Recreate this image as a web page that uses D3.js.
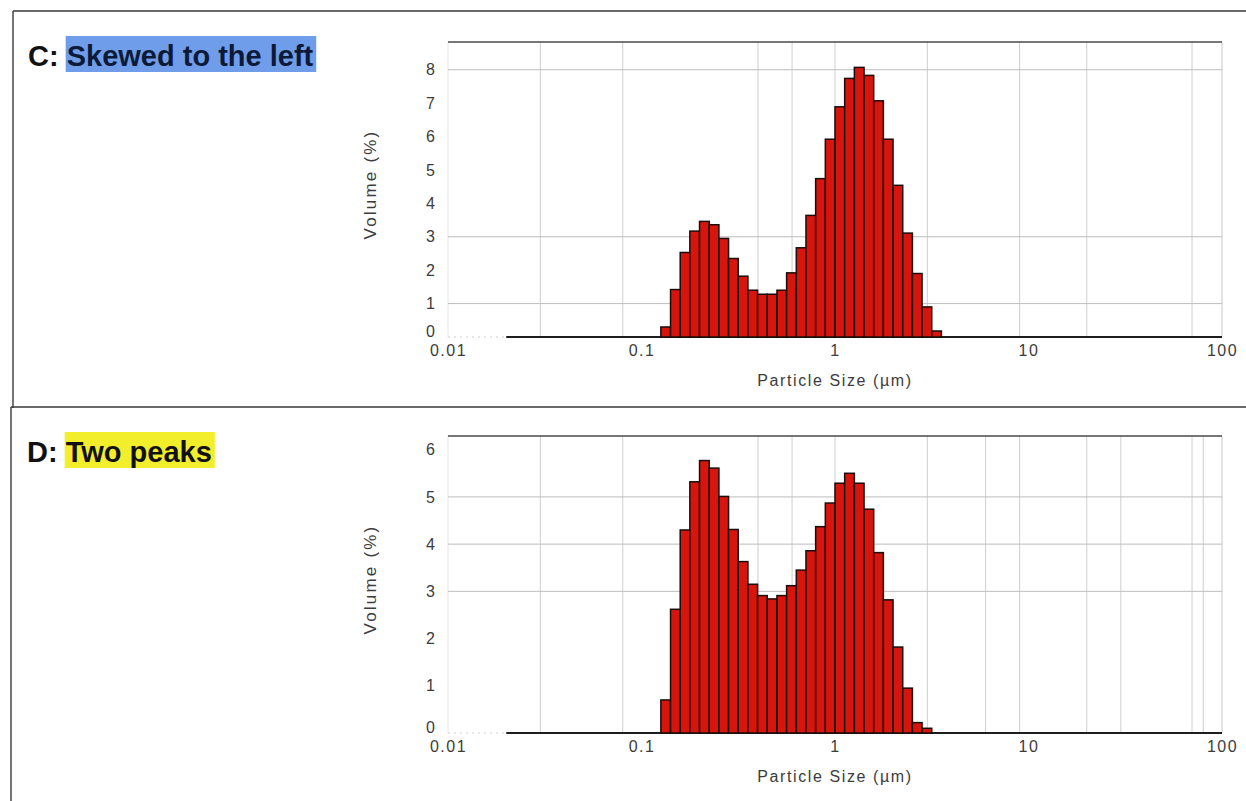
<!DOCTYPE html>
<html>
<head>
<meta charset="utf-8">
<script src="https://cdn.jsdelivr.net/npm/d3@7/dist/d3.min.js"></script>
<style>
  html, body { margin: 0; padding: 0; background: #fff; }
  svg { display: block; }
</style>
</head>
<body>
<svg id="chart" width="1246" height="801"></svg>
<script>
// ---------- DATA ----------
// Lower/upper edges of the Mastersizer size classes (µm) that carry volume
const sizeEdges = [0.1259, 0.1413, 0.1585, 0.1778, 0.1995, 0.2239, 0.2512, 0.2818, 0.3162, 0.3548,
  0.3981, 0.4467, 0.5012, 0.5623, 0.6310, 0.7079, 0.7943, 0.8913, 1.0, 1.122,
  1.259, 1.413, 1.585, 1.778, 1.995, 2.239, 2.512, 2.818, 3.162, 3.548];

// Panel C: Skewed to the left  (Volume %, one per size class)
const volumeC = [0.30, 1.42, 2.53, 3.17, 3.46, 3.36, 2.95, 2.35, 1.82, 1.40,
  1.28, 1.28, 1.40, 1.92, 2.67, 3.64, 4.74, 5.92, 6.89, 7.74,
  8.07, 7.83, 7.07, 5.92, 4.54, 3.11, 1.90, 0.90, 0.18];

// Panel D: Two peaks
const volumeD = [0.70, 2.62, 4.30, 5.32, 5.77, 5.61, 5.01, 4.31, 3.63, 3.15,
  2.91, 2.84, 2.91, 3.12, 3.45, 3.86, 4.37, 4.87, 5.29, 5.50,
  5.29, 4.74, 3.82, 2.82, 1.82, 0.95, 0.22, 0.10];

const xTickValues = [0.01, 0.1, 1, 10, 100];
const xTickLabels = ["0.01", "0.1", "1", "10", "100"];
const yTicksC = [0, 1, 2, 3, 4, 5, 6, 7, 8];
const yTicksD = [0, 1, 2, 3, 4, 5, 6];
const gridXC = [0.03, 0.08, 0.4, 0.6, 1, 3, 9, 20, 70];
const gridXD = [0.03, 0.08, 0.4, 0.6, 1, 3, 6, 9, 20, 30, 70, 80];
const gridYC = [1, 3, 8];
const gridYD = [3, 4, 5];
const xDomain = [0.01, 100];
const measuredFrom = 0.02;

const titleC = ["C: ", "Skewed to the left"];
const titleD = ["D: ", "Two peaks"];
const xLabel = "Particle Size (µm)";
const yLabel = "Volume (%)";

// ---------- DRAW ----------
const svg = d3.select("#chart");
const FONT = "'Liberation Sans', Arial, sans-serif";

// page frame lines (scanned document borders)
svg.append("line").attr("x1", 13).attr("x2", 1246).attr("y1", 11).attr("y2", 11)
  .attr("stroke", "#3a3a3a").attr("stroke-width", 1.6);
svg.append("line").attr("x1", 13).attr("x2", 13).attr("y1", 11).attr("y2", 408)
  .attr("stroke", "#3a3a3a").attr("stroke-width", 1.4);
svg.append("line").attr("x1", 11).attr("x2", 1246).attr("y1", 407).attr("y2", 407)
  .attr("stroke", "#3a3a3a").attr("stroke-width", 1.6);
svg.append("line").attr("x1", 11).attr("x2", 11).attr("y1", 407).attr("y2", 801)
  .attr("stroke", "#3a3a3a").attr("stroke-width", 1.4);

function drawTitle(parts, x, y, hlColor, hlTextColor) {
  const g = svg.append("g");
  const t = g.append("text").attr("x", x).attr("y", y)
    .attr("font-family", FONT).attr("font-weight", "bold").attr("font-size", 29)
    .attr("fill", "#111");
  t.append("tspan").text(parts[0]);
  t.append("tspan").attr("fill", hlTextColor).text(parts[1]);
  const node = t.node();
  const start = node.getSubStringLength(0, parts[0].length);
  const len = node.getSubStringLength(parts[0].length, parts[1].length);
  g.insert("rect", "text")
    .attr("x", x + start - 1).attr("y", y - 30)
    .attr("width", len + 4).attr("height", 36)
    .attr("fill", hlColor);
}
drawTitle(titleC, 28, 66, "#6f9de9", "#0c1a38");
drawTitle(titleD, 27, 462, "#f3ee2c", "#111");

function drawPanel(cfg) {
  const x = d3.scaleLog().domain(xDomain).range([448, 1222]);
  const y = d3.scaleLinear().domain([0, cfg.yMax]).range([cfg.bottom, cfg.top]);
  const g = svg.append("g");

  // light plot frame sides
  g.append("line").attr("x1", x(xDomain[0])).attr("x2", x(xDomain[0]))
    .attr("y1", cfg.top).attr("y2", cfg.bottom).attr("stroke", "#e4e4e4");
  g.append("line").attr("x1", x(xDomain[1])).attr("x2", x(xDomain[1]))
    .attr("y1", cfg.top).attr("y2", cfg.bottom).attr("stroke", "#c9c9c9");

  // grid
  g.selectAll(".gx").data(cfg.gridX).join("line")
    .attr("x1", d => x(d)).attr("x2", d => x(d))
    .attr("y1", cfg.top).attr("y2", cfg.bottom)
    .attr("stroke", "#cfcfcf").attr("stroke-width", 1);
  g.selectAll(".gy").data(cfg.gridY).join("line")
    .attr("x1", x(xDomain[0])).attr("x2", x(xDomain[1]))
    .attr("y1", d => y(d)).attr("y2", d => y(d))
    .attr("stroke", "#bdbdbd").attr("stroke-width", 1);

  // top frame
  g.append("line").attr("x1", x(xDomain[0])).attr("x2", x(xDomain[1]))
    .attr("y1", cfg.top).attr("y2", cfg.top)
    .attr("stroke", "#4a4a4a").attr("stroke-width", 1.6);

  // baseline: faint before measuring range, dark after
  g.append("line").attr("x1", x(xDomain[0])).attr("x2", x(measuredFrom))
    .attr("y1", y(0)).attr("y2", y(0))
    .attr("stroke", "#d0d0d0").attr("stroke-width", 1).attr("stroke-dasharray", "2,4");
  g.append("line").attr("x1", x(measuredFrom)).attr("x2", x(xDomain[1]))
    .attr("y1", y(0)).attr("y2", y(0))
    .attr("stroke", "#1e1e1e").attr("stroke-width", 2);

  // bars
  g.selectAll(".bar").data(cfg.values).join("rect")
    .attr("x", (d, i) => x(sizeEdges[i]))
    .attr("width", (d, i) => x(sizeEdges[i + 1]) - x(sizeEdges[i]))
    .attr("y", d => y(d))
    .attr("height", d => y(0) - y(d))
    .attr("fill", "#d8150d")
    .attr("stroke", "#1a0d0a").attr("stroke-width", 1.5);

  // x axis
  const xa = g.append("g").attr("transform", `translate(0,${cfg.bottom})`)
    .call(d3.axisBottom(x).tickValues(xTickValues)
      .tickFormat((d, i) => xTickLabels[i]).tickSize(0).tickPadding(8));
  xa.select(".domain").remove();
  xa.selectAll("text").attr("font-family", FONT).attr("font-size", 16)
    .attr("letter-spacing", 1.5).attr("fill", "#3c3c3c");

  // y axis
  const ya = g.append("g").attr("transform", `translate(${x(xDomain[0])},0)`)
    .call(d3.axisLeft(y).tickValues(cfg.yTicks).tickFormat(d3.format("d"))
      .tickSize(0).tickPadding(13));
  ya.select(".domain").remove();
  ya.selectAll("text").attr("font-family", FONT).attr("font-size", 16)
    .attr("fill", "#3c3c3c");
  // the zero label sits just above the corner so it does not collide with "0.01"
  ya.selectAll(".tick").filter(d => d === 0).select("text").attr("dy", "-0.05em");

  // axis titles
  g.append("text").attr("x", x(1)).attr("y", cfg.bottom + 49)
    .attr("text-anchor", "middle").attr("font-family", FONT).attr("font-size", 16)
    .attr("letter-spacing", 1.6).attr("fill", "#3c3c3c").text(xLabel);
  g.append("text")
    .attr("transform", `translate(376,${(cfg.top + cfg.bottom) / 2 - 5}) rotate(-90)`)
    .attr("text-anchor", "middle").attr("font-family", FONT).attr("font-size", 17)
    .attr("letter-spacing", 2.2).attr("fill", "#3c3c3c").text(yLabel);
}

drawPanel({ values: volumeC, top: 42, bottom: 337, yMax: 8.83,
  yTicks: yTicksC, gridX: gridXC, gridY: gridYC });
drawPanel({ values: volumeD, top: 436, bottom: 733, yMax: 6.29,
  yTicks: yTicksD, gridX: gridXD, gridY: gridYD });
</script>
</body>
</html>
